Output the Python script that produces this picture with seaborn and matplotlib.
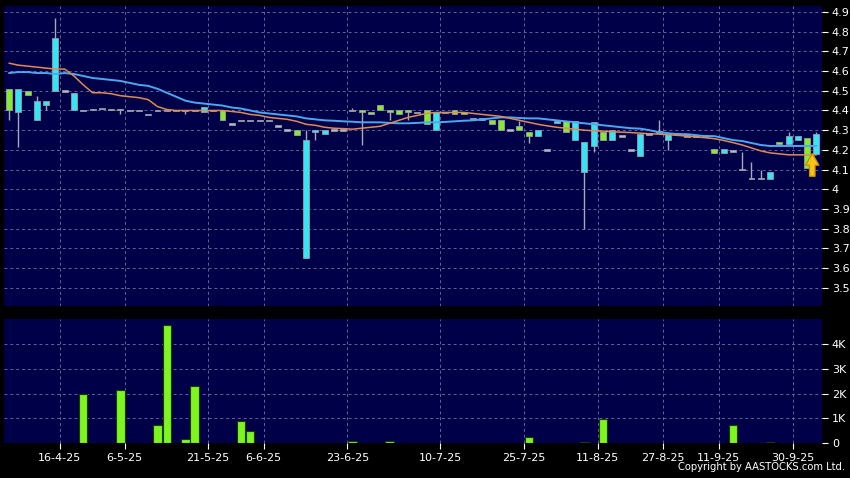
import numpy as np
import matplotlib
matplotlib.use("Agg")
import matplotlib.pyplot as plt
import seaborn as sns
from matplotlib.patches import FancyArrow
from matplotlib.ticker import FuncFormatter

# ---------------- data ----------------
opens = [4.40, 4.51, 4.48, 4.45, 4.45, 4.77, 4.50, 4.49, 4.40, 4.41,
         4.41, 4.40, 4.40, 4.40, 4.40, 4.38, 4.40, 4.40, 4.40, 4.40,
         4.40, 4.42, 4.40, 4.35, 4.33, 4.35, 4.35, 4.35, 4.35, 4.32,
         4.30, 4.275, 4.25, 4.30, 4.30, 4.30, 4.30, 4.40, 4.39, 4.38,
         4.40, 4.39, 4.38, 4.39, 4.39, 4.33, 4.39, 4.39, 4.38, 4.38,
         4.36, 4.36, 4.33, 4.30, 4.30, 4.30, 4.27, 4.30, 4.20, 4.345,
         4.29, 4.345, 4.24, 4.34, 4.25, 4.30, 4.27, 4.20, 4.28, 4.28,
         4.29, 4.28, 4.28, 4.27, 4.27, 4.27, 4.185, 4.205, 4.195, 4.10,
         4.06, 4.06, 4.09, 4.23, 4.27, 4.27, 4.11, 4.28]
closes = [4.51, 4.39, 4.50, 4.35, 4.43, 4.50, 4.50, 4.40, 4.40, 4.40,
          4.41, 4.41, 4.41, 4.40, 4.40, 4.38, 4.40, 4.40, 4.40, 4.40,
          4.40, 4.39, 4.40, 4.40, 4.33, 4.35, 4.35, 4.35, 4.35, 4.32,
          4.30, 4.30, 3.65, 4.29, 4.28, 4.30, 4.30, 4.40, 4.40, 4.39,
          4.43, 4.40, 4.40, 4.40, 4.39, 4.40, 4.30, 4.39, 4.40, 4.39,
          4.36, 4.35, 4.35, 4.35, 4.30, 4.32, 4.29, 4.27, 4.20, 4.335,
          4.345, 4.25, 4.09, 4.22, 4.29, 4.25, 4.27, 4.20, 4.17, 4.28,
          4.29, 4.25, 4.28, 4.27, 4.27, 4.27, 4.205, 4.185, 4.195, 4.10,
          4.05, 4.05, 4.05, 4.24, 4.23, 4.25, 4.26, 4.18]
highs = [4.51, 4.51, 4.50, 4.475, 4.45, 4.87, 4.50, 4.49, 4.40, 4.41,
         4.41, 4.41, 4.41, 4.40, 4.40, 4.38, 4.40, 4.40, 4.40, 4.40,
         4.40, 4.42, 4.40, 4.40, 4.33, 4.35, 4.35, 4.35, 4.35, 4.32,
         4.30, 4.30, 4.30, 4.30, 4.30, 4.30, 4.30, 4.415, 4.40, 4.39,
         4.43, 4.40, 4.40, 4.40, 4.39, 4.40, 4.39, 4.39, 4.40, 4.39,
         4.36, 4.36, 4.35, 4.35, 4.30, 4.345, 4.29, 4.30, 4.20, 4.345,
         4.345, 4.345, 4.24, 4.34, 4.29, 4.30, 4.27, 4.20, 4.28, 4.28,
         4.35, 4.28, 4.28, 4.27, 4.27, 4.27, 4.205, 4.205, 4.195, 4.19,
         4.14, 4.10, 4.09, 4.24, 4.29, 4.27, 4.26, 4.29]
lows = [4.35, 4.215, 4.48, 4.35, 4.40, 4.50, 4.50, 4.40, 4.40, 4.40,
        4.41, 4.40, 4.38, 4.40, 4.40, 4.38, 4.40, 4.40, 4.40, 4.38,
        4.40, 4.39, 4.40, 4.35, 4.33, 4.35, 4.35, 4.35, 4.35, 4.32,
        4.30, 4.275, 3.65, 4.25, 4.28, 4.30, 4.30, 4.40, 4.225, 4.38,
        4.40, 4.35, 4.38, 4.35, 4.39, 4.33, 4.30, 4.39, 4.38, 4.38,
        4.36, 4.35, 4.33, 4.30, 4.30, 4.30, 4.235, 4.27, 4.20, 4.335,
        4.29, 4.25, 3.80, 4.19, 4.25, 4.25, 4.27, 4.20, 4.17, 4.28,
        4.29, 4.20, 4.28, 4.27, 4.27, 4.27, 4.185, 4.185, 4.195, 4.10,
        4.05, 4.05, 4.05, 4.23, 4.23, 4.25, 4.11, 4.18]
volumes = [30, 30, 5, 30, 5, 30, 5, 5, 2000, 5,
           5, 5, 2140, 5, 5, 5, 730, 4750, 30, 170,
           2290, 30, 10, 10, 5, 910, 510, 5, 5, 5,
           10, 5, 5, 5, 5, 5, 5, 90, 5, 5,
           5, 90, 5, 30, 5, 5, 5, 5, 5, 5,
           5, 5, 5, 5, 5, 30, 250, 5, 5, 5,
           5, 5, 40, 20, 990, 5, 20, 20, 30, 5,
           30, 30, 5, 5, 5, 5, 5, 5, 750, 30,
           5, 5, 40, 5, 5, 5, 5, 5]
ma_short = [4.64, 4.63, 4.625, 4.62, 4.615, 4.61, 4.61, 4.575, 4.53, 4.49,
            4.49, 4.485, 4.475, 4.47, 4.465, 4.455, 4.42, 4.405, 4.40, 4.40,
            4.40, 4.40, 4.40, 4.40, 4.395, 4.39, 4.38, 4.375, 4.365, 4.36,
            4.355, 4.345, 4.33, 4.325, 4.315, 4.31, 4.308, 4.305, 4.31, 4.315,
            4.32, 4.335, 4.35, 4.365, 4.375, 4.385, 4.39, 4.39, 4.39, 4.39,
            4.385, 4.38, 4.375, 4.37, 4.36, 4.35, 4.34, 4.33, 4.322, 4.315,
            4.31, 4.305, 4.30, 4.297, 4.295, 4.292, 4.29, 4.288, 4.285, 4.282,
            4.28, 4.277, 4.274, 4.27, 4.266, 4.262, 4.257, 4.248, 4.237, 4.225,
            4.21, 4.195, 4.185, 4.18, 4.175, 4.175, 4.175, 4.175]
ma_long = [4.59, 4.595, 4.595, 4.59, 4.59, 4.585, 4.59, 4.585, 4.575, 4.565,
           4.56, 4.555, 4.55, 4.54, 4.53, 4.525, 4.51, 4.49, 4.47, 4.45,
           4.44, 4.435, 4.43, 4.425, 4.415, 4.41, 4.40, 4.39, 4.385, 4.38,
           4.375, 4.37, 4.36, 4.355, 4.35, 4.348, 4.345, 4.343, 4.34, 4.34,
           4.34, 4.337, 4.335, 4.335, 4.337, 4.34, 4.34, 4.342, 4.345, 4.348,
           4.35, 4.355, 4.36, 4.365, 4.365, 4.362, 4.36, 4.36, 4.355, 4.35,
           4.345, 4.34, 4.335, 4.33, 4.325, 4.32, 4.315, 4.31, 4.308, 4.30,
           4.29, 4.285, 4.28, 4.28, 4.275, 4.27, 4.27, 4.26, 4.25, 4.245,
           4.235, 4.225, 4.22, 4.22, 4.22, 4.22, 4.22, 4.22]
tick_labels = ["16-4-25", "6-5-25", "21-5-25", "6-6-25", "23-6-25", "10-7-25",
               "25-7-25", "11-8-25", "27-8-25", "11-9-25", "30-9-25"]
tick_candle = [5, 12, 21, 27, 36, 46, 55, 63, 70, 76, 84]
price_ticks = [3.5, 3.6, 3.7, 3.8, 3.9, 4.0, 4.1, 4.2, 4.3, 4.4, 4.5, 4.6, 4.7, 4.8, 4.9]
volume_ticks = [0, 1000, 2000, 3000, 4000]
signal_candle = 86

# ---------------- style ----------------
sns.set_theme(style="dark")
plt.rcParams["font.family"] = ["DejaVu Sans"]

BG = "#000000"
PANEL = "#000048"
GRID = "#64649a"
GREEN = "#84ec2a"
CYAN = "#34e6f4"
FLAT = "#b0bccc"
EDGE = "#9a9aa8"
WICK = "#a8a8b4"
ORANGE = "#e08a52"
BLUE = "#4aa8f0"
VOLG = "#7cf520"

o = np.array(opens); c = np.array(closes)
h = np.array(highs); l = np.array(lows)
idx = np.arange(len(o))
vol = np.array(volumes)

fig = plt.figure(figsize=(8.5, 4.78), dpi=100, facecolor=BG)
ax = fig.add_axes([0.0047, 0.3598, 0.9624, 0.6276])
axv = fig.add_axes([0.0047, 0.0726, 0.9624, 0.2600])

xlim = (-0.54, len(o) - 0.4)
gx = [t + 0.45 for t in tick_candle]

for a in (ax, axv):
    a.set_facecolor(PANEL)
    for s in a.spines.values():
        s.set_visible(False)

# ---------------- price panel ----------------
ax.vlines(idx, l, h, color=WICK, lw=1.0, zorder=2)
body_b = np.minimum(o, c)
body_h = np.abs(c - o)
min_h = 0.008
draw_h = np.maximum(body_h, min_h)
draw_b = body_b - (draw_h - body_h) / 2
cols = np.where(c > o, GREEN, np.where(c < o, CYAN, FLAT))
ax.bar(idx, draw_h, bottom=draw_b, width=0.64, color=cols,
       edgecolor=EDGE, linewidth=0.6, zorder=3)

sns.lineplot(x=idx, y=ma_long, ax=ax, color=BLUE, lw=1.4, zorder=4)
sns.lineplot(x=idx, y=ma_short, ax=ax, color=ORANGE, lw=1.1, zorder=5)

ax.add_patch(FancyArrow(signal_candle + 0.55, 4.066, 0, 0.116, width=0.6,
                        head_width=1.45, head_length=0.06,
                        length_includes_head=True, facecolor="#f6c41e",
                        edgecolor="#c88a00", lw=0.9, zorder=6))

ax.set_xlim(*xlim)
ax.set_ylim(3.408, 4.930)
ax.set_yticks(price_ticks)
ax.yaxis.set_major_formatter(FuncFormatter(lambda v, p: f"{v:g}"))
ax.yaxis.tick_right()
ax.set_xticks(gx)
ax.tick_params(axis="x", length=0, labelbottom=False)
ax.tick_params(axis="y", colors="white", labelcolor="white", length=4,
               width=0.8, pad=3, labelsize=8, right=True, left=False)
ax.grid(True, color=GRID, lw=0.7, ls=(0, (3, 3)))
ax.set_xlabel(""); ax.set_ylabel("")

# ---------------- volume panel ----------------
sns.barplot(x=idx, y=vol, ax=axv, native_scale=True, color=VOLG,
            saturation=1, width=0.9, edgecolor="#1a3a00", linewidth=0.8,
            errorbar=None, zorder=3)
axv.set_xlim(*xlim)
axv.set_ylim(0, 5000)
axv.set_yticks(volume_ticks)
axv.yaxis.set_major_formatter(FuncFormatter(lambda v, p: "0" if v == 0 else f"{v/1000:g}K"))
axv.yaxis.tick_right()
axv.set_xticks(gx)
axv.set_xticklabels(tick_labels)
axv.tick_params(axis="x", colors="white", labelcolor="white", length=4,
                width=0.8, pad=3, labelsize=8, bottom=True)
axv.tick_params(axis="y", colors="white", labelcolor="white", length=4,
                width=0.8, pad=3, labelsize=8, right=True, left=False)
axv.grid(True, color=GRID, lw=0.7, ls=(0, (3, 3)))
axv.set_xlabel(""); axv.set_ylabel("")

fig.text(0.994, 0.013, "Copyright by AASTOCKS.com Ltd.", color="white",
         fontsize=7.2, ha="right", va="bottom")

fig.savefig("out.png", dpi=100, facecolor=BG)
